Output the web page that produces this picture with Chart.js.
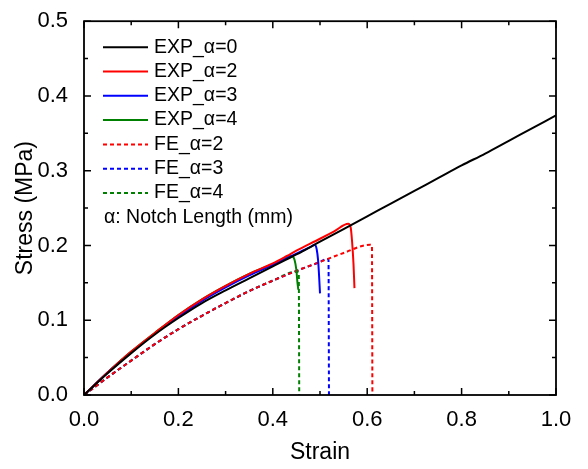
<!DOCTYPE html>
<html>
<head>
<meta charset="utf-8">
<title>Stress vs Strain</title>
<script src="https://cdn.jsdelivr.net/npm/chart.js@4.4.0/dist/chart.umd.min.js"></script>
<style>
  html, body { margin: 0; padding: 0; background: #fff; }
  #wrap { width: 588px; height: 469px; position: relative; }
</style>
</head>
<body>
<div id="wrap"><canvas id="chart"></canvas></div>
<script>
// Experimental curves
const strainExp0 = [0, 0.05, 0.1, 0.15, 0.2, 0.25, 0.3, 0.35, 0.4, 0.45, 0.5, 0.55, 0.6, 0.65, 0.7, 0.75, 0.8, 0.85, 0.9, 0.95, 1.0];
const stressExp0 = [0, 0.029, 0.056, 0.081, 0.103, 0.123, 0.140, 0.156, 0.172, 0.188, 0.205, 0.222, 0.239, 0.256, 0.273, 0.290, 0.307, 0.323, 0.340, 0.357, 0.374];

const strainExp2 = [0, 0.05, 0.1, 0.15, 0.2, 0.25, 0.3, 0.35, 0.4, 0.43, 0.45, 0.5, 0.53, 0.56, 0.565, 0.568, 0.571, 0.573];
const stressExp2 = [0, 0.030, 0.058, 0.083, 0.107, 0.128, 0.146, 0.162, 0.176, 0.186, 0.193, 0.209, 0.219, 0.229, 0.224, 0.205, 0.175, 0.143];

const strainExp3 = [0, 0.05, 0.1, 0.15, 0.2, 0.25, 0.3, 0.35, 0.4, 0.44, 0.46, 0.48, 0.489, 0.493, 0.496, 0.498, 0.5];
const stressExp3 = [0, 0.030, 0.057, 0.082, 0.105, 0.126, 0.144, 0.160, 0.174, 0.186, 0.192, 0.198, 0.201, 0.195, 0.180, 0.160, 0.136];

const strainExp4 = [0, 0.05, 0.1, 0.15, 0.2, 0.25, 0.3, 0.35, 0.4, 0.44, 0.446, 0.45, 0.452, 0.454];
const stressExp4 = [0, 0.030, 0.058, 0.083, 0.107, 0.128, 0.146, 0.162, 0.175, 0.186, 0.181, 0.167, 0.152, 0.141];

// Finite element curves
const strainFe2 = [0, 0.05, 0.1, 0.15, 0.2, 0.25, 0.3, 0.35, 0.4, 0.45, 0.5, 0.55, 0.606, 0.610, 0.611];
const stressFe2 = [0, 0.0235, 0.046, 0.068, 0.088, 0.106, 0.123, 0.139, 0.153, 0.166, 0.178, 0.190, 0.201, 0.200, 0];

const strainFe3 = [0, 0.05, 0.1, 0.15, 0.2, 0.25, 0.3, 0.35, 0.4, 0.45, 0.5, 0.514, 0.518, 0.519];
const stressFe3 = [0, 0.0235, 0.046, 0.068, 0.088, 0.106, 0.123, 0.139, 0.153, 0.166, 0.178, 0.182, 0.181, 0];

const strainFe4 = [0, 0.05, 0.1, 0.15, 0.2, 0.25, 0.3, 0.35, 0.4, 0.45, 0.455, 0.456];
const stressFe4 = [0, 0.0235, 0.046, 0.068, 0.088, 0.106, 0.123, 0.139, 0.153, 0.165, 0.164, 0];

const seriesLabels = ['EXP_α=0', 'EXP_α=2', 'EXP_α=3', 'EXP_α=4', 'FE_α=2', 'FE_α=3', 'FE_α=4'];
const noteText = 'α: Notch Length (mm)';
const xTitle = 'Strain';
const yTitle = 'Stress (MPa)';

const FONT = '"Liberation Sans", Arial, sans-serif';

function toPoints(xs, ys) {
    return xs.map((x, i) => ({ x: x, y: ys[i] }));
}

function makeSet(label, xs, ys, color, dashed) {
    return {
        label: label,
        data: toPoints(xs, ys),
        borderColor: color,
        backgroundColor: color,
        borderWidth: 2,
        borderDash: dashed ? [4, 3] : [],
        pointRadius: 0,
        cubicInterpolationMode: 'monotone',
        fill: false
    };
}

// Frame plus inward ticks on all four sides
const frameTicks = {
    id: 'frameTicks',
    afterDraw(chart) {
        const ctx = chart.ctx;
        const a = chart.chartArea;
        const xs = chart.scales.x;
        const ys = chart.scales.y;
        ctx.save();
        ctx.strokeStyle = '#000';
        ctx.lineWidth = 1.5;
        ctx.beginPath();
        for (let i = 0; i <= 10; i++) {
            const px = xs.getPixelForValue(i / 10);
            const len = i % 2 === 0 ? 7 : 4;
            ctx.moveTo(px, a.bottom); ctx.lineTo(px, a.bottom - len);
            ctx.moveTo(px, a.top); ctx.lineTo(px, a.top + len);
        }
        for (let i = 0; i <= 10; i++) {
            const py = ys.getPixelForValue(i * 0.05);
            const len = i % 2 === 0 ? 7 : 4;
            ctx.moveTo(a.left, py); ctx.lineTo(a.left + len, py);
            ctx.moveTo(a.right, py); ctx.lineTo(a.right - len, py);
        }
        ctx.stroke();
        ctx.lineWidth = 1.8;
        ctx.strokeRect(a.left, a.top, a.right - a.left, a.bottom - a.top);
        ctx.restore();
    }
};

// Legend drawn inside the plot area
const insideLegend = {
    id: 'insideLegend',
    afterDraw(chart) {
        const ctx = chart.ctx;
        const a = chart.chartArea;
        const x0 = a.left + 19;
        const x1 = a.left + 64;
        const tx = a.left + 70;
        let y = a.top + 26;
        const step = 24.3;
        ctx.save();
        ctx.font = '19.5px ' + FONT;
        ctx.textBaseline = 'middle';
        ctx.fillStyle = '#000';
        chart.data.datasets.forEach(ds => {
            ctx.strokeStyle = ds.borderColor;
            ctx.lineWidth = 2;
            ctx.setLineDash(ds.borderDash || []);
            ctx.beginPath();
            ctx.moveTo(x0, y);
            ctx.lineTo(x1, y);
            ctx.stroke();
            ctx.fillText(ds.label, tx, y);
            y += step;
        });
        ctx.setLineDash([]);
        ctx.fillText(noteText, x0 + 1, y);
        ctx.restore();
    }
};

const ctx = document.getElementById('chart').getContext('2d');
new Chart(ctx, {
    type: 'line',
    data: {
        datasets: [
            makeSet(seriesLabels[0], strainExp0, stressExp0, '#000000', false),
            makeSet(seriesLabels[1], strainExp2, stressExp2, '#ff0000', false),
            makeSet(seriesLabels[2], strainExp3, stressExp3, '#0000ff', false),
            makeSet(seriesLabels[3], strainExp4, stressExp4, '#008000', false),
            makeSet(seriesLabels[4], strainFe2, stressFe2, '#ff0000', true),
            makeSet(seriesLabels[5], strainFe3, stressFe3, '#0000ff', true),
            makeSet(seriesLabels[6], strainFe4, stressFe4, '#008000', true)
        ]
    },
    options: {
        responsive: true,
        maintainAspectRatio: false,
        animation: false,
        layout: { padding: { top: 15, right: 32, left: 0, bottom: 0 } },
        plugins: {
            legend: { display: false },
            tooltip: { enabled: false }
        },
        scales: {
            x: {
                type: 'linear',
                min: 0,
                max: 1,
                grid: { display: false },
                border: { display: false },
                ticks: {
                    stepSize: 0.2,
                    padding: 4,
                    color: '#000',
                    font: { family: FONT, size: 22 },
                    callback: v => v.toFixed(1)
                },
                title: {
                    display: true,
                    text: xTitle,
                    color: '#000',
                    font: { family: FONT, size: 23 },
                    padding: { top: 0, bottom: 3 }
                },
                afterFit: scale => { scale.height = 74; }
            },
            y: {
                type: 'linear',
                min: 0,
                max: 0.5,
                grid: { display: false },
                border: { display: false },
                ticks: {
                    stepSize: 0.1,
                    padding: 8,
                    color: '#000',
                    font: { family: FONT, size: 22 },
                    callback: v => v.toFixed(1)
                },
                title: {
                    display: true,
                    text: yTitle,
                    color: '#000',
                    font: { family: FONT, size: 23 },
                    padding: { top: 12, bottom: 0 }
                },
                afterFit: scale => { scale.width = 84; }
            }
        }
    },
    plugins: [frameTicks, insideLegend]
});
</script>
</body>
</html>
